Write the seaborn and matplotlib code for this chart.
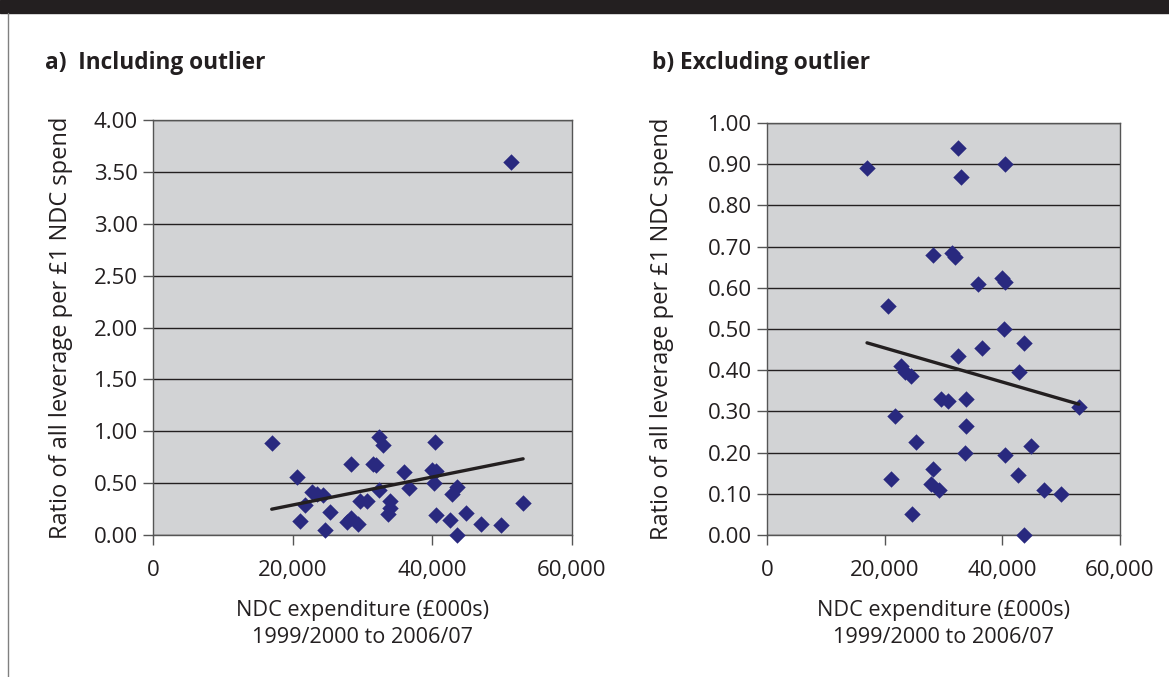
import matplotlib
matplotlib.use("Agg")
import matplotlib.pyplot as plt
import matplotlib.ticker as mticker
import numpy as np
import pandas as pd
import seaborn as sns

# NDC expenditure (£000s), 1999/2000 to 2006/07, and leverage ratio per £1 NDC spend
spend = [17000, 32400, 32900, 40400, 20600, 28300, 31500, 32000, 35900, 40000,
         40500, 40200, 43600, 36600, 32400, 22700, 23500, 24400, 42800, 29600,
         30700, 33900, 21800, 53000, 33900, 25400, 44800, 33700, 40500, 28300,
         21000, 42600, 27800, 29300, 47000, 49900, 24700, 43600]
ratio = [0.89, 0.94, 0.87, 0.90, 0.555, 0.68, 0.685, 0.675, 0.61, 0.625,
         0.615, 0.50, 0.465, 0.455, 0.435, 0.41, 0.395, 0.385, 0.395, 0.33,
         0.325, 0.33, 0.29, 0.31, 0.265, 0.225, 0.215, 0.20, 0.195, 0.16,
         0.135, 0.145, 0.125, 0.11, 0.11, 0.10, 0.05, 0.00]

# The single outlying area
outlier_spend = [51300]
outlier_ratio = [3.60]

x_ticks = [0, 20000, 40000, 60000]
left_yticks = [0.0, 0.5, 1.0, 1.5, 2.0, 2.5, 3.0, 3.5, 4.0]
right_yticks = [0.0, 0.1, 0.2, 0.3, 0.4, 0.5, 0.6, 0.7, 0.8, 0.9, 1.0]

titles = ["a)  Including outlier", "b) Excluding outlier"]
ylabel = "Ratio of all leverage per £1 NDC spend"
xlabel = "NDC expenditure (£000s)\n1999/2000 to 2006/07"

sns.set_theme(style="white")
plt.rcParams["font.family"] = ["Open Sans", "DejaVu Sans"]

df_all = pd.DataFrame({"spend": spend + outlier_spend, "ratio": ratio + outlier_ratio})
df_ex = pd.DataFrame({"spend": spend, "ratio": ratio})

fig = plt.figure(figsize=(11.69, 6.77), dpi=100)

# page furniture: dark band along the top and a thin frame line on the left
fig.add_artist(plt.Rectangle((0, 1 - 13 / 677), 1, 13 / 677, transform=fig.transFigure,
                             color="#231f20", zorder=0))
fig.add_artist(plt.Line2D([8 / 1169, 8 / 1169], [0, 1 - 13 / 677], transform=fig.transFigure,
                          color="#808080", lw=1.0))

ax1 = fig.add_axes([153 / 1169, 1 - 535 / 677, 419 / 1169, 415 / 677])
ax2 = fig.add_axes([767 / 1169, 1 - 535 / 677, 353 / 1169, 412 / 677])

ink = "#231f20"
marker_color = "#29297f"
panels = [
    (ax1, df_all, left_yticks, 4.0, 15),
    (ax2, df_ex, right_yticks, 1.0, 24),
]

for ax, df, yticks, ymax, ypad in panels:
    ax.set_facecolor("#d2d3d5")
    sns.regplot(data=df, x="spend", y="ratio", ax=ax, ci=None, marker="D",
                scatter_kws={"s": 70, "color": marker_color, "alpha": 1.0,
                             "linewidths": 0, "zorder": 3, "clip_on": False},
                line_kws={"color": ink, "lw": 2.4, "zorder": 4})
    ax.set_xlim(0, 60000)
    ax.set_ylim(0, ymax)
    ax.set_xticks(x_ticks)
    ax.xaxis.set_major_formatter(mticker.FuncFormatter(lambda v, p: f"{int(v):,}"))
    ax.set_yticks(yticks)
    ax.yaxis.set_major_formatter(mticker.FuncFormatter(lambda v, p: f"{v:.2f}"))
    ax.grid(axis="y", color=ink, lw=1.0, zorder=1)
    ax.set_axisbelow(True)
    for side in ["left", "bottom", "top", "right"]:
        ax.spines[side].set_visible(True)
        ax.spines[side].set_color("#555555")
        ax.spines[side].set_linewidth(1.0)
    ax.tick_params(axis="both", which="major", direction="out", length=7, width=1.0,
                   color="#555555", labelsize=16, labelcolor=ink, pad=4,
                   left=True, bottom=True)
    ax.tick_params(axis="x", pad=11)
    ax.set_xlabel(xlabel, fontsize=15.6, color=ink, linespacing=1.35, labelpad=14)
    ax.set_ylabel(ylabel, fontsize=17, color=ink, labelpad=ypad)

fig.text(45 / 1169, 1 - 63 / 677, titles[0], fontsize=16.3, fontweight="bold",
         color=ink, va="center", ha="left")
fig.text(652 / 1169, 1 - 63 / 677, titles[1], fontsize=16.3, fontweight="bold",
         color=ink, va="center", ha="left")

fig.savefig("out.png", dpi=100, facecolor="white")
